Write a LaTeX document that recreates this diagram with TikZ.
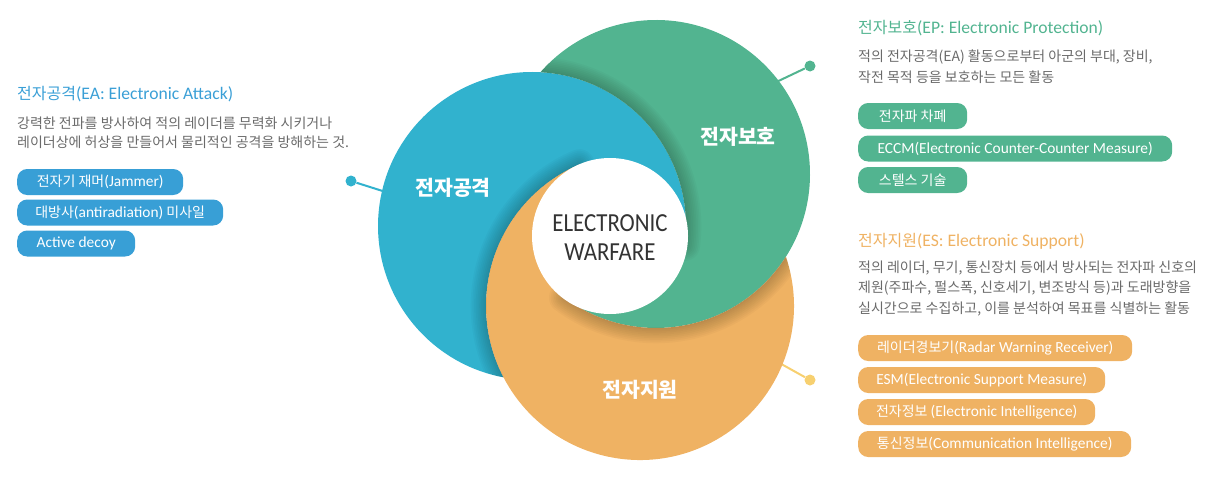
\documentclass[tikz,border=0pt]{standalone}
\usepackage{fontspec}
\setmainfont{Noto Sans CJK KR}
\newfontfamily\la{Carlito}[Scale=1.1]
\newfontfamily\ewf{Carlito}[FakeStretch=0.88]
\definecolor{cblue}{HTML}{31B2CE}
\definecolor{cgreen}{HTML}{52B490}
\definecolor{corange}{HTML}{EFB263}
\definecolor{bblue}{HTML}{389FD6}
\definecolor{tblue}{HTML}{3A9FD6}
\definecolor{cyel}{HTML}{F7D070}
\definecolor{desccol}{HTML}{6A6A6A}
\definecolor{ewcol}{HTML}{333333}
\newcommand\latn[1]{{\la #1}}
% the three visible arms of the pinwheel (image coordinates, y downwards)
\def\bluearm{(N) arc[start angle=-86.87, end angle=-259.34, radius=154] -- (P)
  arc[start angle=152.40, end angle=246.80, radius=154] -- (X) -- (W)
  arc[start angle=7.31, end angle=-86.87, radius=154] -- cycle}
\def\greenarm{(N) arc[start angle=-138.64, end angle=126.57, radius=154] -- (Z) -- (W)
  arc[start angle=7.31, end angle=-86.87, radius=154] -- cycle}
\def\orangearm{(P) arc[start angle=152.40, end angle=-18.66, radius=154] -- (Q)
  arc[start angle=32.49, end angle=126.57, radius=154] -- (Z) -- (X)
  arc[start angle=246.80, end angle=152.40, radius=154] -- cycle}
\tikzset{
  btn/.style={rounded corners=10pt, minimum height=26pt, inner sep=0pt, text=white,
    font=\fontsize{14}{16}\selectfont, anchor=west},
  ttl/.style={anchor=west, inner sep=0pt, font=\fontsize{16}{19}\selectfont},
  dsc/.style={anchor=west, inner sep=0pt, text=desccol, font=\fontsize{14}{17}\selectfont},
  cl/.style={text=white, inner sep=0pt, font=\fontsize{20.5}{24}\selectfont\bfseries},
  dotn/.style={circle, inner sep=0pt, minimum size=11pt},
  conn/.style={line width=2pt},
  shd/.style={draw=black, opacity=0.022, line join=round, yshift=-3pt}
}
\begin{document}
\begin{tikzpicture}[x=1pt,y=-1pt]
\useasboundingbox (0,0) rectangle (1225,479);
\coordinate (Wc) at (610,236);
\coordinate (N) at (540.42,72.23);
\coordinate (A) at (647.58,327.77);
\coordinate (B) at (510.10,223.28);
\coordinate (Q) at (785.90,256.72);
\coordinate (C) at (668.48,154.66);
\coordinate (P) at (503.52,377.35);
\coordinate (W) at (684.75,245.59);
\coordinate (Z) at (564.24,297.67);
\coordinate (X) at (579.33,164.45);

% connectors (behind circles)
\node[dotn, fill=cblue] (dA) at (351,181) {};
\coordinate (eA) at (430,206);
\draw[conn, cblue] (dA) -- (eA);
\node[dotn, fill=cgreen] (dP) at (810,66) {};
\coordinate (eP) at (730,104);
\draw[conn, cgreen] (dP) -- (eP);
\node[dotn, fill=cyel] (dS) at (810,380) {};
\coordinate (eS) at (740,341);
\draw[conn, cyel] (dS) -- (eS);

% pinwheel arms
\fill[cblue] \bluearm;
\fill[cgreen] \greenarm;
\fill[corange] \orangearm;
% soft shadows of each arm on the one beneath it
\begin{scope}\clip \greenarm;
  \foreach \k in {1,...,9} {\path[shd, line width=3.4*\k] \bluearm;}
\end{scope}
\begin{scope}\clip \bluearm;
  \foreach \k in {1,...,9} {\path[shd, line width=3.4*\k] \orangearm;}
\end{scope}
\begin{scope}\clip \orangearm;
  \foreach \k in {1,...,9} {\path[shd, line width=3.4*\k] \greenarm;}
\end{scope}

\node[circle, fill=white, minimum size=156pt, inner sep=0pt] (core) at (Wc) {};
\node[text=ewcol, align=center, inner sep=0pt, font=\ewf\fontsize{26}{29}\selectfont] (coret) at (610,238) {ELECTRONIC\\WARFARE};

\node[cl] (lA) at (453,188) {전자공격};
\node[cl] (lP) at (738,137) {전자보호};
\node[cl] (lS) at (640,390) {전자지원};

% left block
\node[ttl, text=tblue] (tA) at (17,94) {전자공격\latn{(EA: Electronic Attack)}};
\node[dsc] (dA1) at (17,123) {강력한 전파를 방사하여 적의 레이더를 무력화 시키거나};
\node[dsc] (dA2) at (17,142) {레이더상에 허상을 만들어서 물리적인 공격을 방해하는 것.};
\node[btn, fill=bblue, minimum width=166pt] (bA1) at (17,182) {전자기 재머\latn{(Jammer)}};
\node[btn, fill=bblue, minimum width=206pt] (bA2) at (17,212.5) {대방사\latn{(antiradiation)} 미사일};
\node[btn, fill=bblue, minimum width=118pt] (bA3) at (17,243.5) {\latn{Active decoy}};

% right top block
\node[ttl, text=cgreen] (tP) at (858,28) {전자보호\latn{(EP: Electronic Protection)}};
\node[dsc] (dP1) at (858,57) {적의 전자공격(EA) 활동으로부터 아군의 부대, 장비,};
\node[dsc] (dP2) at (858,77) {작전 목적 등을 보호하는 모든 활동};
\node[btn, fill=cgreen, minimum width=109pt] (bP1) at (858,116) {전자파 차폐};
\node[btn, fill=cgreen, minimum width=314pt] (bP2) at (858,148.5) {\latn{ECCM(Electronic Counter-Counter Measure)}};
\node[btn, fill=cgreen, minimum width=109pt] (bP3) at (858,180) {스텔스 기술};

% right bottom block
\node[ttl, text=corange] (tS) at (858,241) {전자지원\latn{(ES: Electronic Support)}};
\node[dsc] (dS1) at (858,268) {적의 레이더, 무기, 통신장치 등에서 방사되는 전자파 신호의};
\node[dsc] (dS2) at (858,288) {제원(주파수, 펄스폭, 신호세기, 변조방식 등)과 도래방향을};
\node[dsc] (dS3) at (858,309) {실시간으로 수집하고, 이를 분석하여 목표를 식별하는 활동};
\node[btn, fill=corange, minimum width=274pt] (bS1) at (858,348) {레이더경보기\latn{(Radar Warning Receiver)}};
\node[btn, fill=corange, minimum width=247pt] (bS2) at (858,380) {\latn{ESM(Electronic Support Measure)}};
\node[btn, fill=corange, minimum width=237pt] (bS3) at (858,412) {전자정보 \latn{(Electronic Intelligence)}};
\node[btn, fill=corange, minimum width=273pt] (bS4) at (858,444) {통신정보\latn{(Communication Intelligence)}};
\end{tikzpicture}
\end{document}
